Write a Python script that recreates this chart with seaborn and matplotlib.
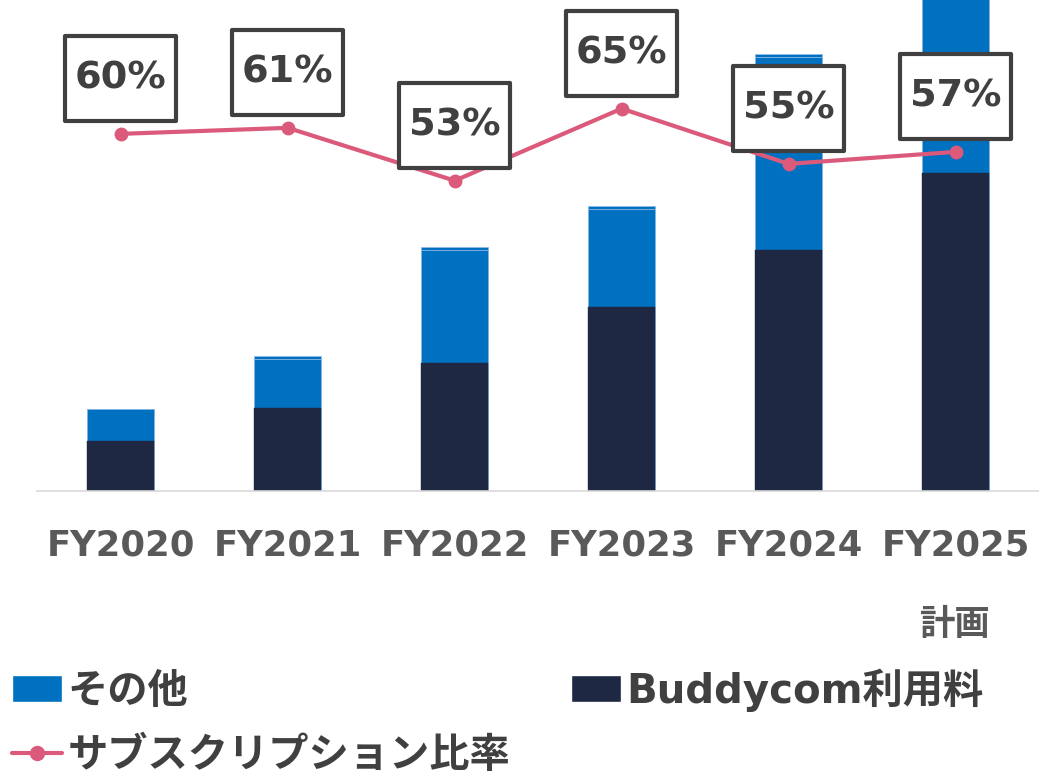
import numpy as np
import pandas as pd
import matplotlib
matplotlib.use("Agg")
import matplotlib.pyplot as plt
import matplotlib.transforms as mtransforms
from matplotlib.patches import Rectangle, Patch
from matplotlib.lines import Line2D
import seaborn as sns

# data (bar units are relative)
years = ["FY2020", "FY2021", "FY2022", "FY2023", "FY2024", "FY2025"]
tick_labels = ["FY2020", "FY2021", "FY2022", "FY2023", "FY2024", "FY2025\n計画"]
buddycom = [0.50, 0.83, 1.28, 1.84, 2.41, 3.18]
other = [0.32, 0.49, 1.13, 0.98, 1.93, 2.30]
other_top = [0.00, 0.03, 0.03, 0.03, 0.03, 0.00]
sub_ratio = [60.0, 61.0, 52.2, 64.2, 55.0, 57.0]
ratio_labels = ["60%", "61%", "53%", "65%", "55%", "57%"]

BLUE = "#0070c0"
NAVY = "#1e2843"
PINK = "#db5a7b"
GRAY = "#404040"

df = pd.DataFrame({"year": years, "buddycom": buddycom, "other": other, "top": other_top})
df["mid"] = df["buddycom"] + df["other"]
df["total"] = df["mid"] + df["top"]

sns.set_style("white")
plt.rcParams["font.family"] = ["DejaVu Sans", "Noto Sans CJK JP"]

fig = plt.figure(figsize=(10.39, 7.79), dpi=100)
ax = fig.add_axes([0.036, 0.3697, 0.964, 0.6303])

bar_kw = dict(width=0.4, saturation=1, ax=ax, edgecolor="#8fbbe6", linewidth=0.6)
sns.barplot(data=df, x="year", y="total", color=BLUE, **bar_kw)
sns.barplot(data=df, x="year", y="mid", color=BLUE, **bar_kw)
sns.barplot(data=df, x="year", y="buddycom", color=NAVY, width=0.4, saturation=1, ax=ax,
            edgecolor=NAVY, linewidth=0.3)

ax.set_ylim(0, 4.91)
ax.set_xlabel("")
ax.set_ylabel("")
ax.set_yticks([])
for s in ["top", "left", "right"]:
    ax.spines[s].set_visible(False)
ax.spines["bottom"].set_color("#d9d9d9")
ax.spines["bottom"].set_linewidth(1.2)
ax.set_xticks(range(len(years)))
ax.set_xticklabels(tick_labels, fontsize=25.5, fontweight="bold", color="#595959")
ax.tick_params(axis="x", length=0, pad=27)
last = ax.get_xticklabels()[-1]
last.set_linespacing(2.7)

# subscription ratio line on a second axis
ax2 = ax.twinx()
xs = np.arange(len(years))
sns.lineplot(x=xs, y=sub_ratio, ax=ax2, color=PINK, linewidth=3, marker="o",
             markersize=10, markeredgewidth=0, zorder=4)

for x, v, lab in zip(xs, sub_ratio, ratio_labels):
    trans = fig.dpi_scale_trans + mtransforms.ScaledTranslation(x, v, ax2.transData)
    box = Rectangle((-0.555, 0.125), 1.11, 0.85, transform=trans, facecolor="white",
                    edgecolor=GRAY, linewidth=3, joinstyle="round", zorder=5, clip_on=False)
    ax2.add_patch(box)
    ax2.annotate(lab, (x, v), xytext=(0, 40), textcoords="offset points", ha="center",
                 va="center", fontsize=27.5, fontweight="bold", color=GRAY, zorder=6)

ax2.set_ylim(0.5, 82.3)
ax2.set_xlim(-0.5, 5.5)
ax.set_xlim(-0.5, 5.5)
ax2.set_yticks([])
ax2.set_ylabel("")
for s in ax2.spines.values():
    s.set_visible(False)

handles = [Patch(facecolor=BLUE), Line2D([], [], color=PINK, linewidth=3, marker="o", markersize=10),
           Patch(facecolor=NAVY)]
labels = ["その他", "サブスクリプション比率", "Buddycom利用料"]
fig.legend(handles, labels, loc="upper left", bbox_to_anchor=(0.0115, 0.142), ncol=2,
           frameon=False, borderpad=0, borderaxespad=0, handlelength=1.25, handleheight=0.65,
           handletextpad=0.13, labelspacing=0.6, columnspacing=1.5,
           prop={"size": 29, "weight": "bold"}, labelcolor=GRAY)

fig.savefig("out.png", dpi=100)
